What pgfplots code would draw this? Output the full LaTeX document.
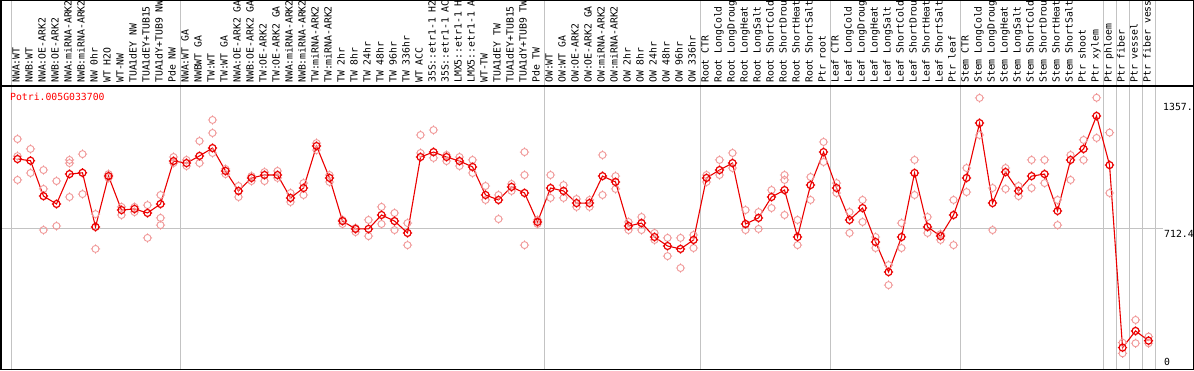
\documentclass[border=0pt]{standalone}
\usepackage{fontspec}
\setmonofont{DejaVu Sans Mono}
\usepackage{pgfplots}
\usepackage{pgfplotstable}
\pgfplotsset{compat=1.18}
\definecolor{rep}{RGB}{240,150,150}
\definecolor{sepc}{RGB}{195,195,195}
\definecolor{meanred}{RGB}{235,0,0}
\pgfdeclareplotmark{nubcircle}{%
  \pgfpathcircle{\pgfpointorigin}{3.5pt}%
  \pgfpathmoveto{\pgfqpoint{0pt}{3.5pt}}\pgfpathlineto{\pgfqpoint{0pt}{4.6pt}}%
  \pgfpathmoveto{\pgfqpoint{0pt}{-3.5pt}}\pgfpathlineto{\pgfqpoint{0pt}{-4.6pt}}%
  \pgfpathmoveto{\pgfqpoint{3.5pt}{0pt}}\pgfpathlineto{\pgfqpoint{4.6pt}{0pt}}%
  \pgfpathmoveto{\pgfqpoint{-3.5pt}{0pt}}\pgfpathlineto{\pgfqpoint{-4.6pt}{0pt}}%
  \pgfusepathqstroke}

\pgfplotstableread{
i v
0 1090
1 1081
2 888
3 845
4 1008
5 1015
6 720
7 997
8 812
9 818
10 796
11 845
12 1079
13 1068
14 1107
15 1150
16 1025
17 916
18 987
19 1003
20 1003
21 878
22 932
23 1161
24 987
25 752
26 709
27 709
28 785
29 752
30 687
31 1101
32 1128
33 1101
34 1079
35 1047
36 894
37 867
38 938
39 905
40 747
41 932
42 916
43 850
44 850
45 997
46 965
47 725
48 741
49 665
50 616
51 600
52 649
53 987
54 1030
55 1068
56 736
57 769
58 883
59 921
60 665
61 948
62 1128
63 932
64 758
65 823
66 638
67 474
68 665
69 1014
70 720
71 670
72 785
73 987
74 1286
75 850
76 1019
77 916
78 997
79 1008
80 807
81 1085
82 1145
83 1325
84 1057
85 62
86 153
87 100
}\means

\pgfplotstableread{
i v
0 1199
0 976
0 1106
1 1145
1 1014
2 1030
2 927
2 703
3 970
3 725
4 1085
4 1068
4 883
5 1117
5 899
6 790
6 600
7 1008
7 987
8 829
8 785
9 829
9 801
10 839
10 660
11 894
11 769
11 730
12 1101
12 1068
13 1085
13 1052
14 1188
14 1068
15 1303
15 1232
15 1123
16 1036
16 1008
17 943
17 883
18 997
18 970
19 1019
19 970
20 1025
20 987
21 905
21 856
22 959
22 894
23 1177
23 1139
24 1003
24 965
25 758
25 736
26 714
26 692
27 758
27 670
28 829
28 736
29 796
29 703
30 741
30 621
31 1221
31 1123
32 1248
32 1096
33 1112
33 1079
34 1101
34 1052
35 1085
35 1014
36 943
36 867
37 894
37 763
38 954
38 916
39 1128
39 1003
39 621
40 758
40 736
41 1003
41 878
42 948
42 878
43 872
43 829
44 867
44 829
45 1112
45 894
46 997
46 927
47 747
47 703
48 774
48 703
49 687
49 649
50 660
50 561
51 660
51 496
52 676
52 605
53 1003
53 965
54 1085
54 1003
55 1123
55 1041
56 812
56 703
57 801
57 709
58 921
58 823
59 1003
59 976
59 785
60 758
60 621
61 992
61 867
62 1183
62 1074
63 959
63 905
64 801
64 687
65 867
65 747
66 665
66 605
67 512
67 403
68 741
68 605
69 1085
69 894
70 774
70 687
71 681
71 649
72 867
72 621
73 1041
73 910
74 1423
74 1221
75 932
75 703
76 1041
76 927
77 943
77 888
78 1085
78 932
79 1085
79 959
80 867
80 730
81 1112
81 976
82 1194
82 1085
83 1424
83 1205
84 1234
84 905
85 89
85 31
86 213
86 86
87 122
87 86
}\reps

\begin{document}
\begin{tikzpicture}[x=1pt,y=1pt]
\foreach \px in {11,180,544,700,830,960,1103,1116,1129,1142,1155}
  \draw[sepc, line width=1pt] (\px,0) -- (\px,370);
\draw[sepc, line width=1pt] (0,141.7) -- (1163,141.7);
\begin{axis}[at={(0,0)}, anchor=south west, scale only axis,
  width=1194pt, height=284pt,
  xmin=-1.34615, xmax=90.5, ymin=-59.96, ymax=1488.07,
  hide axis, clip=false]
\addplot[only marks, mark=nubcircle, mark options={rep, line width=0.9pt}] table[x=i,y=v]{\reps};
\addplot[meanred, line width=1.1pt, mark=nubcircle, mark options={meanred, line width=1.2pt}] table[x=i,y=v]{\means};
\end{axis}
\draw[black, line width=1.5pt] (0.75,0.75) rectangle (1193.25,369.25);
\draw[black, line width=1.5pt] (0,284) -- (1194,284);
\foreach \lab [count=\i from 0] in {NWA:WT,NWB:WT,NWA:OE-ARK2,NWB:OE-ARK2,NWA:miRNA-ARK2,NWB:miRNA-ARK2,NW 0hr,WT H2O,WT-NW,TUA1dEY NW,TUA1dEY+TUB15,TUA1dY+TUB9 NW,Pde NW,NWA:WT GA,NWBWT GA,TW:WT,TW:WT GA,NWA:OE-ARK2 GA,NWB:OE-ARK2 GA,TW:OE-ARK2,TW:OE-ARK2 GA,NWA:miRNA-ARK2,NWB:miRNA-ARK2,TW:miRNA-ARK2,TW:miRNA-ARK2,TW 2hr,TW 8hr,TW 24hr,TW 48hr,TW 96hr,TW 336hr,WT ACC,35S::etr1-1 H2,35S::etr1-1 AC,LMX5::etr1-1 H,LMX5::etr1-1 A,WT-TW,TUA1dEY TW,TUA1dEY+TUB15,TUA1dY+TUB9 TW,Pde TW,OW:WT,OW:WT GA,OW:OE-ARK2,OW:OE-ARK2 GA,OW:miRNA-ARK2,OW:miRNA-ARK2,OW 2hr,OW 8hr,OW 24hr,OW 48hr,OW 96hr,OW 336hr,Root CTR,Root LongCold,Root LongDroug,Root LongHeat,Root LongSalt,Root ShortCold,Root ShortDrou,Root ShortHeat,Root ShortSalt,Ptr root,Leaf CTR,Leaf LongCold,Leaf LongDroug,Leaf LongHeat,Leaf LongSalt,Leaf ShortCold,Leaf ShortDrou,Leaf ShortHeat,Leaf ShortSalt,Ptr leaf,Stem CTR,Stem LongCold,Stem LongDroug,Stem LongHeat,Stem LongSalt,Stem ShortCold,Stem ShortDrou,Stem ShortHeat,Stem ShortSalt,Ptr shoot,Ptr xylem,Ptr phloem,Ptr fiber,Ptr vessel,Ptr fiber vess}
  \node[rotate=90, anchor=mid west, inner sep=0pt, font=\ttfamily\fontsize{9.8}{10}\selectfont] at ({17.5+13*\i},287) {\lab};
\node[anchor=base west, inner sep=0pt, font=\ttfamily\fontsize{9.8}{10}\selectfont] at (1163,259) {1357.};
\node[anchor=base west, inner sep=0pt, font=\ttfamily\fontsize{9.8}{10}\selectfont] at (1164,133) {712.4};
\node[anchor=base west, inner sep=0pt, font=\ttfamily\fontsize{9.8}{10}\selectfont] at (1164,5) {0};
\node[anchor=base west, inner sep=0pt, text=red, font=\ttfamily\fontsize{9.8}{10}\selectfont] at (10,269.3) {Potri.005G033700};
\pgfresetboundingbox
\path[use as bounding box] (0,0) rectangle (1194,370);
\end{tikzpicture}
\end{document}
